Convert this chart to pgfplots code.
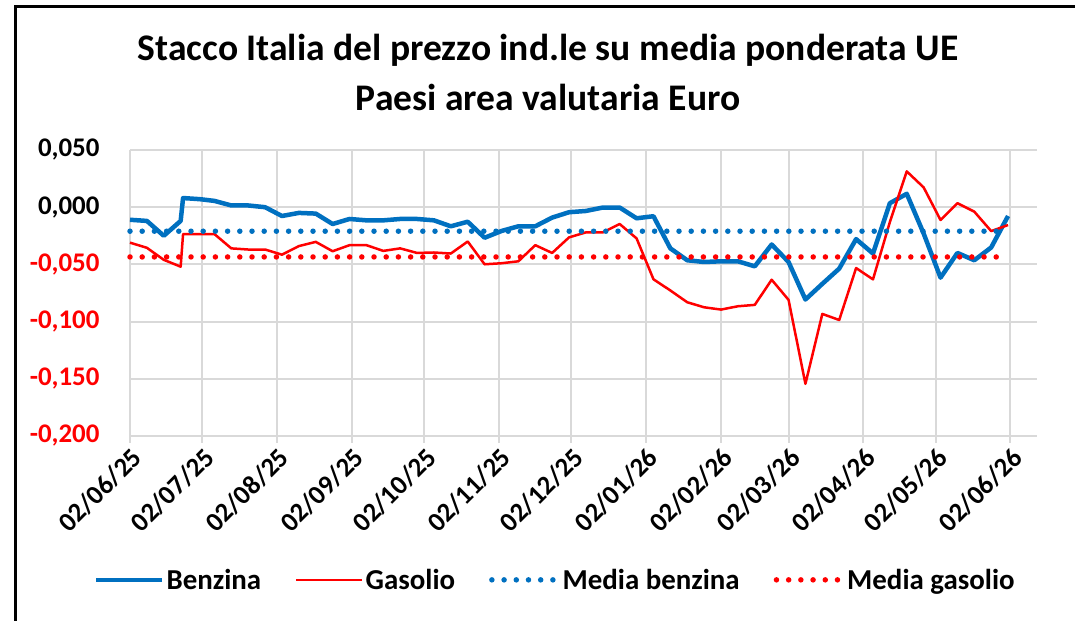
\documentclass[border=0pt]{standalone}
\usepackage{pgfplots}
\pgfplotsset{compat=1.18}
\usepackage{pgfplotstable}
\usepackage{fontspec}
\setmainfont{Carlito}
\definecolor{benz}{HTML}{0070C0}
\definecolor{gas}{HTML}{FF0000}
\definecolor{gridc}{HTML}{D9D9D9}

\pgfplotstableread{
day benz gas
0 -0.011 -0.031
7 -0.012 -0.0355
14 -0.025 -0.046
21 -0.012 -0.052
22 0.008 -0.0235
29 0.007 -0.0235
35 0.0055 -0.0235
42 0.0015 -0.036
49 0.0015 -0.037
56 0.000 -0.037
63 -0.0077 -0.0415
70 -0.005 -0.034
77 -0.0056 -0.0303
84 -0.0147 -0.0385
91 -0.0103 -0.0332
98 -0.0115 -0.0332
105 -0.0115 -0.0382
112 -0.0103 -0.036
119 -0.0103 -0.040
126 -0.0115 -0.0396
133 -0.0167 -0.0405
140 -0.0127 -0.030
147 -0.0267 -0.0499
154 -0.0208 -0.049
161 -0.0167 -0.0473
168 -0.0167 -0.0332
175 -0.0091 -0.040
182 -0.0044 -0.0264
189 -0.0033 -0.022
196 -0.0003 -0.022
203 -0.0003 -0.0147
210 -0.0097 -0.0273
217 -0.0079 -0.063
224 -0.036 -0.0728
231 -0.0464 -0.0831
238 -0.0479 -0.0875
245 -0.0473 -0.0895
252 -0.0473 -0.0866
259 -0.0517 -0.0854
266 -0.0326 -0.0634
273 -0.0479 -0.081
280 -0.0807 -0.1544
287 -0.067 -0.0933
294 -0.0537 -0.0986
301 -0.0279 -0.0532
308 -0.0405 -0.0631
315 0.0035 -0.013
322 0.0117 0.0313
329 -0.023 0.0173
336 -0.0616 -0.0112
343 -0.040 0.0035
350 -0.0464 -0.0039
357 -0.0352 -0.0209
364 -0.0077 -0.0156
}\datatable

\pgfplotstableread{
day val
0 -0.021
364 -0.021
}\mediabenz

\pgfplotstableread{
day val
0 -0.0435
364 -0.0435
}\mediagas

\begin{document}
\begin{tikzpicture}[x=1bp,y=1bp]
\useasboundingbox (0,0) rectangle (1075,621);
\fill[white] (0,0) rectangle (1075,621);
\draw[black, line width=3bp] (15,-2) -- (15,614) -- (1077,614);
\node[font=\fontsize{37.7}{44}\selectfont\bfseries, inner sep=0pt] at (548,571) {Stacco Italia del prezzo ind.le su media ponderata UE};
\node[font=\fontsize{37.7}{44}\selectfont\bfseries, inner sep=0pt] at (548,524) {Paesi area valutaria Euro};
\begin{axis}[
  at={(130bp,185bp)}, anchor=south west,
  scale only axis, width=907bp, height=286bp,
  xmin=0, xmax=376, ymin=-0.2, ymax=0.05,
  axis x line=bottom, axis y line=left,
  axis line style={gridc, line width=2bp, -},
  xtick={0,30,61,92,122,153,183,214,245,273,304,334,365},
  xticklabels={02/06/25,02/07/25,02/08/25,02/09/25,02/10/25,02/11/25,02/12/25,02/01/26,02/02/26,02/03/26,02/04/26,02/05/26,02/06/26},
  ytick={-0.2,-0.15,-0.1,-0.05,0,0.05},
  yticklabels={{\color{gas}-0,200},{\color{gas}-0,150},{\color{gas}-0,100},{\color{gas}-0,050},{0,000},{0,050}},
  grid=major,
  major grid style={gridc, line width=2bp},
  x tick style={gridc, line width=2bp},
  tick align=outside,
  major tick length=7bp,
  y tick style={draw=none},
  ticklabel style={font=\fontsize{27}{32}\selectfont\bfseries},
  xticklabel style={rotate=45, anchor=north east, inner sep=2bp},
  yticklabel style={xshift=-20bp},
  legend columns=4,
  legend style={at={(0.469,-0.503)}, anchor=center, draw=none, fill=none,
    font=\fontsize{29}{34}\selectfont\bfseries,
    /tikz/every even column/.append style={column sep=32bp}},
  legend image code/.code={\draw[#1] (0bp,0bp) -- (66bp,0bp);},
  clip=false,
]
\addplot[benz, line width=4.5bp, line join=round] table[x=day, y=benz] {\datatable};
\addlegendentry{Benzina}
\addplot[gas, line width=2.5bp, line join=round] table[x=day, y=gas] {\datatable};
\addlegendentry{Gasolio}
\addplot[benz, line width=5.5bp, line cap=round, dash pattern=on 0bp off 12.2bp] table[x=day, y=val] {\mediabenz};
\addlegendentry{Media benzina}
\addplot[gas, line width=5.5bp, line cap=round, dash pattern=on 0bp off 12.2bp] table[x=day, y=val] {\mediagas};
\addlegendentry{Media gasolio}
\end{axis}
\end{tikzpicture}
\end{document}
